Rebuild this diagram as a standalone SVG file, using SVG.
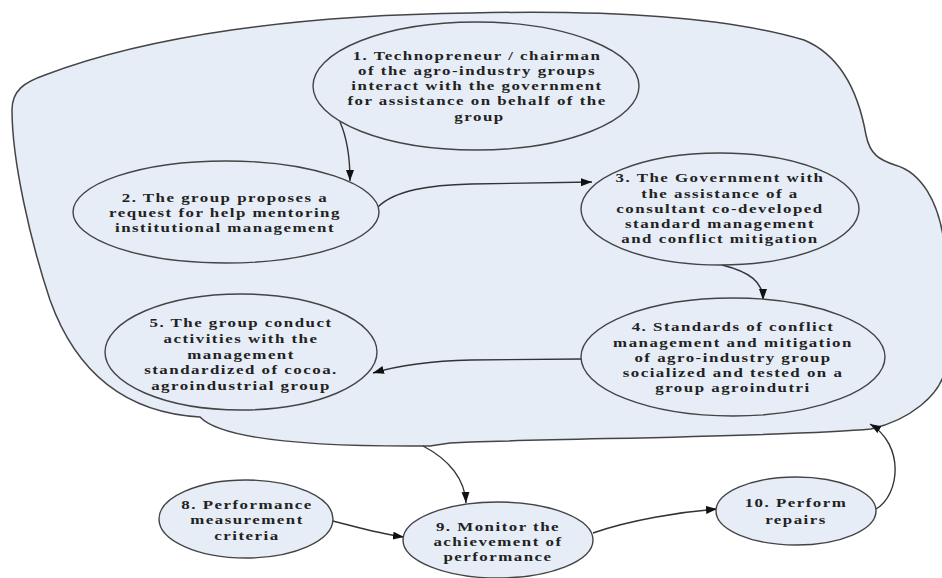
<svg xmlns="http://www.w3.org/2000/svg" width="942" height="578" viewBox="0 0 942 578">
<defs>
<marker id="arr" markerUnits="userSpaceOnUse" markerWidth="12" markerHeight="10" refX="11" refY="4" orient="auto">
<path d="M0,0 L11,4 L0,8 Z" fill="#111"/>
</marker>
<style>
.blob{fill:#e6edf7;stroke:#444;stroke-width:1.5}
.node ellipse{fill:#e6edf7;stroke:#444;stroke-width:1.4}
.node text{font-family:"Liberation Serif","Times New Roman",serif;font-weight:bold;font-size:13.5px;letter-spacing:1.2px;fill:#222;text-anchor:middle}
.edge{fill:none;stroke:#333;stroke-width:1.4;marker-end:url(#arr)}
</style>
</defs>
<rect width="942" height="578" fill="#ffffff"/>
<path class="blob" d="M200,417 C130,413 78,378 50,300 C30,240 12,160 12,110 C12,90 25,82 45,75 C150,35 300,15 471,13 C600,10 720,15 804,40 C840,55 858,90 866,135 C870,155 880,160 895,165 C920,172 940,200 945,250 L945,370 C940,395 910,420 871,429 C800,436 600,438 471,442 L450,443 L430,446 C300,447 220,438 200,417 Z"/>
<g id="connectors">
<path class="edge" d="M340,122 C348,140 350,160 350,181"/>
<path class="edge" d="M378,207 C395,190 430,185 471,184 L592,182"/>
<path class="edge" d="M722,265 C750,272 763,282 763,300"/>
<path class="edge" d="M581,359 L471,360 C430,361 400,365 373,373"/>
<path class="edge" d="M423,446 C450,460 465,480 466,503"/>
<path class="edge" d="M333,521 C360,528 380,534 404,537"/>
<path class="edge" d="M593,533 C630,520 680,512 717,509"/>
<path class="edge" d="M876,509 C900,495 905,445 870,424"/>
</g>
<g id="node1" class="node">
<ellipse cx="476" cy="86" rx="163" ry="64"/>
<g transform="translate(477,0) scale(1.25,1)">
<text x="0" y="60">1. Technopreneur / chairman</text>
<text x="0" y="75">of the agro-industry groups</text>
<text x="0" y="90">interact with the government</text>
<text x="0" y="105">for assistance on behalf of the</text>
<text x="2" y="121">group</text>
</g>
</g>
<g id="node2" class="node">
<ellipse cx="226" cy="212" rx="153" ry="51"/>
<g transform="translate(225,0) scale(1.25,1)">
<text x="0" y="202">2. The group proposes a</text>
<text x="0" y="217">request for help mentoring</text>
<text x="0" y="232">institutional management</text>
</g>
</g>
<g id="node3" class="node">
<ellipse cx="720" cy="209" rx="139" ry="56"/>
<g transform="translate(720,0) scale(1.25,1)">
<text x="0" y="182">3. The Government with</text>
<text x="0" y="198">the assistance of a</text>
<text x="0" y="213">consultant  co-developed</text>
<text x="0" y="228">standard management</text>
<text x="0" y="243">and conflict mitigation</text>
</g>
</g>
<g id="node4" class="node">
<ellipse cx="733" cy="357" rx="152" ry="59"/>
<g transform="translate(733,0) scale(1.25,1)">
<text x="0" y="331">4. Standards of conflict</text>
<text x="0" y="347">management and mitigation</text>
<text x="0" y="362">of agro-industry group</text>
<text x="0" y="377">socialized and tested on a</text>
<text x="0" y="392">group agroindutri</text>
</g>
</g>
<g id="node5" class="node">
<ellipse cx="241" cy="352" rx="136" ry="58"/>
<g transform="translate(241,0) scale(1.25,1)">
<text x="0" y="327">5. The group conduct</text>
<text x="0" y="343">activities with the</text>
<text x="0" y="359">management</text>
<text x="0" y="374">standardized of cocoa.</text>
<text x="0" y="390">agroindustrial group</text>
</g>
</g>
<g id="node8" class="node">
<ellipse cx="246" cy="519" rx="87" ry="39"/>
<g transform="translate(247,0) scale(1.25,1)">
<text x="0" y="509">8. Performance</text>
<text x="0" y="524">measurement</text>
<text x="0" y="540">criteria</text>
</g>
</g>
<g id="node9" class="node">
<ellipse cx="498" cy="540" rx="95" ry="38"/>
<g transform="translate(498,0) scale(1.25,1)">
<text x="0" y="531">9. Monitor the</text>
<text x="0" y="546">achievement of</text>
<text x="0" y="561">performance</text>
</g>
</g>
<g id="node10" class="node">
<ellipse cx="796" cy="511" rx="80" ry="34"/>
<g transform="translate(796,0) scale(1.25,1)">
<text x="0" y="507">10. Perform</text>
<text x="0" y="524">repairs</text>
</g>
</g>
</svg>
